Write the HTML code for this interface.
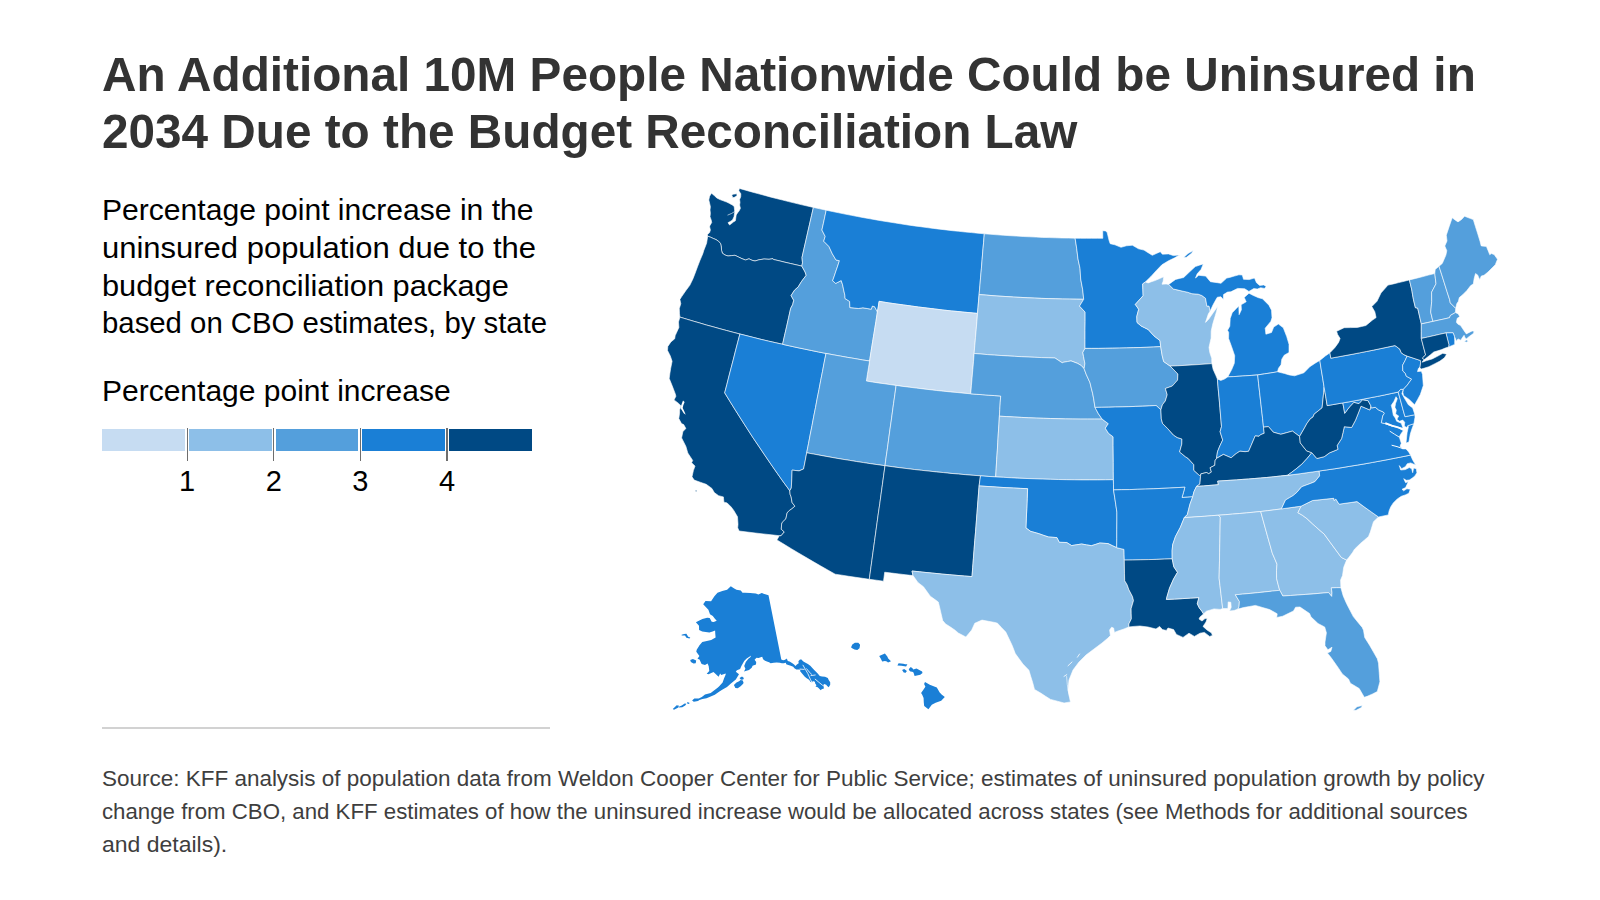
<!DOCTYPE html>
<html lang="en"><head><meta charset="utf-8"><title>An Additional 10M People Nationwide Could be Uninsured in 2034 Due to the Budget Reconciliation Law</title>
<style>
html,body{margin:0;padding:0;background:#fff}
body{width:1600px;height:900px;position:relative;overflow:hidden;font-family:"Liberation Sans",Arial,sans-serif}
.t{position:absolute;white-space:nowrap;line-height:1;transform-origin:0 50%}
.title{font-weight:700;color:#333333}
.sub{color:#000000}
.foot{color:#3e3e3e}
.lab{color:#000;transform-origin:50% 50%}
.seg{position:absolute}
.tick{position:absolute;width:1.2px;background:#6e6e6e}
.tickw{position:absolute;width:1px;background:#fff}
.rule{position:absolute;left:102px;top:726.5px;width:448px;height:2px;background:#d2d2d2}
svg{position:absolute;left:0;top:0}
</style></head><body>
<div class="t title" style="left:102px;top:49.94px;font-size:48.5px;letter-spacing:0px;transform:scaleX(0.9836)">An Additional 10M People Nationwide Could be Uninsured in</div>
<div class="t title" style="left:102px;top:106.84px;font-size:48.5px;letter-spacing:0px;transform:scaleX(0.9835)">2034 Due to the Budget Reconciliation Law</div>
<div class="t sub" style="left:102px;top:196.05px;font-size:29px;letter-spacing:0px;transform:scaleX(1.0375)">Percentage point increase in the</div>
<div class="t sub" style="left:102px;top:233.85px;font-size:29px;letter-spacing:0px;transform:scaleX(1.0683)">uninsured population due to the</div>
<div class="t sub" style="left:102px;top:271.65px;font-size:29px;letter-spacing:0px;transform:scaleX(1.0601)">budget reconciliation package</div>
<div class="t sub" style="left:102px;top:309.45px;font-size:29px;letter-spacing:0px;transform:scaleX(1.0115)">based on CBO estimates, by state</div>
<div class="t sub" style="left:102px;top:376.95px;font-size:29px;letter-spacing:0px;transform:scaleX(1.0345)">Percentage point increase</div>
<div class="t foot" style="left:102px;top:767.78px;font-size:22px;letter-spacing:0px;transform:scaleX(1.0215)">Source: KFF analysis of population data from Weldon Cooper Center for Public Service; estimates of uninsured population growth by policy</div>
<div class="t foot" style="left:102px;top:800.68px;font-size:22px;letter-spacing:0px;transform:scaleX(1.0107)">change from CBO, and KFF estimates of how the uninsured increase would be allocated across states (see Methods for additional sources</div>
<div class="t foot" style="left:102px;top:833.68px;font-size:22px;letter-spacing:0px;transform:scaleX(1.0448)">and details).</div>
<div class="seg" style="left:102.0px;top:429px;width:83.2px;height:21.6px;background:#c6dcf2"></div>
<div class="seg" style="left:189.2px;top:429px;width:82.6px;height:21.6px;background:#8dbfe8"></div>
<div class="seg" style="left:275.8px;top:429px;width:82.6px;height:21.6px;background:#549fdc"></div>
<div class="seg" style="left:362.4px;top:429px;width:82.6px;height:21.6px;background:#1a7fd6"></div>
<div class="seg" style="left:449.0px;top:429px;width:83.0px;height:21.6px;background:#004984"></div>
<div class="tick" style="left:186.6px;top:428.4px;height:32.4px"></div>
<div class="t lab" style="left:167.2px;top:467.45px;width:40px;text-align:center;font-size:29px">1</div>
<div class="tick" style="left:273.2px;top:428.4px;height:32.4px"></div>
<div class="t lab" style="left:253.8px;top:467.45px;width:40px;text-align:center;font-size:29px">2</div>
<div class="tick" style="left:359.8px;top:428.4px;height:32.4px"></div>
<div class="t lab" style="left:340.4px;top:467.45px;width:40px;text-align:center;font-size:29px">3</div>
<div class="tick" style="left:446.4px;top:428.4px;height:32.4px"></div>
<div class="t lab" style="left:427.0px;top:467.45px;width:40px;text-align:center;font-size:29px">4</div>
<div class="rule"></div>
<svg width="1600" height="900" viewBox="0 0 1600 900">
<g id="states" stroke="#ffffff" stroke-opacity="0.6" stroke-width="1.0" stroke-linejoin="round">
<path id="WA" fill="#004984" d="M739.4,188.4L745.6,190.2L751.7,191.9L757.8,193.6L764.0,195.2L770.1,196.9L776.3,198.5L782.5,200.0L788.6,201.6L794.8,203.1L801.0,204.6L807.2,206.0L813.4,207.4L811.5,215.7L809.6,224.1L807.7,232.4L805.8,240.8L803.9,249.1L802.0,257.5L802.5,262.8L801.8,266.1L796.1,264.8L790.5,263.5L784.8,262.2L779.2,260.8L773.5,259.5L773.0,258.7L769.0,259.3L764.0,259.0L759.0,259.8L755.0,261.0L752.0,260.3L749.0,258.8L745.5,260.0L742.0,258.7L738.5,257.0L735.0,255.3L731.5,255.6L728.0,256.0L725.0,255.0L722.4,253.2L721.6,250.6L721.3,247.0L720.6,243.6L718.5,241.2L716.0,239.6L713.3,238.5L710.8,237.3L707.7,236.2L707.5,234.6L709.6,232.5L710.4,230.0L709.6,226.7L710.0,225.4L711.7,222.5L711.2,220.0L710.0,216.7L710.4,213.3L710.0,210.0L710.4,206.7L709.6,203.3L708.8,200.0L709.6,196.2L711.5,193.2L714.2,195.4L716.7,197.9L720.0,199.6L723.3,200.8L726.7,202.1L729.2,203.3L730.8,204.2L732.5,205.0L734.2,206.7L734.8,211.7L734.0,216.7L732.5,220.0L730.2,221.5L728.0,222.7L729.6,225.0L731.2,223.8L733.3,222.1L735.4,220.8L735.8,217.9L736.2,215.0L737.5,212.9L739.2,210.8L740.4,208.3L739.6,205.0L740.0,202.5L739.6,199.6L740.7,196.7L740.8,193.8L738.8,190.8L739.4,188.4Z M731.7,195.0L733.3,194.2L736.7,193.8L737.1,195.4L735.0,197.1L732.9,197.7Z"/>
<path id="OR" fill="#004984" d="M707.7,236.2L710.8,237.3L713.3,238.5L716.0,239.6L718.5,241.2L720.6,243.6L721.3,247.0L721.6,250.6L722.4,253.2L725.0,255.0L728.0,256.0L731.5,255.6L735.0,255.3L738.5,257.0L742.0,258.7L745.5,260.0L749.0,258.8L752.0,260.3L755.0,261.0L759.0,259.8L764.0,259.0L769.0,259.3L773.0,258.7L773.5,259.5L779.2,260.8L784.8,262.2L790.5,263.5L796.1,264.8L801.8,266.1L805.1,272.0L806.2,275.3L801.5,281.5L798.2,286.9L794.5,290.2L791.1,295.6L793.7,300.3L792.7,304.6L790.7,308.3L788.7,317.3L786.7,326.3L784.6,335.3L782.6,344.3L775.5,342.7L768.3,341.1L761.2,339.4L754.1,337.6L747.0,335.8L739.9,334.0L733.2,332.3L726.5,330.5L719.8,328.7L713.1,326.8L706.4,325.0L699.8,323.0L693.1,321.1L686.5,319.1L679.9,317.1L679.5,313.8L679.3,308.5L680.8,303.7L679.9,299.4L681.7,296.6L685.9,290.5L689.8,285.3L692.9,278.9L695.2,273.0L697.4,267.0L700.1,260.1L702.8,253.7L703.7,250.7L706.6,243.2L707.7,236.2Z"/>
<path id="CA" fill="#004984" d="M679.9,317.1L686.5,319.1L693.1,321.1L699.8,323.0L706.4,325.0L713.1,326.8L719.8,328.7L726.5,330.5L733.2,332.3L739.9,334.0L737.7,342.4L735.5,350.8L733.4,359.2L731.2,367.6L729.0,376.0L726.9,384.4L724.7,392.8L730.2,401.8L735.8,410.8L741.5,419.8L747.2,428.7L753.0,437.7L759.0,446.6L765.0,455.5L771.0,464.3L777.2,473.2L783.4,482.0L789.8,490.7L790.1,494.3L791.1,496.8L792.1,502.5L794.9,506.2L791.7,508.9L789.2,510.6L787.1,512.9L785.9,518.8L782.3,522.3L781.6,524.2L781.3,529.3L784.3,531.9L781.0,535.8L779.3,535.7L771.3,534.8L763.2,533.9L755.2,533.0L747.1,532.0L739.1,531.0L737.7,527.8L738.0,524.2L737.5,516.8L733.8,510.5L731.2,507.0L727.1,502.9L723.9,502.2L723.4,496.9L718.6,495.7L714.3,492.6L711.9,488.4L706.2,484.3L700.2,482.2L694.2,480.1L692.0,476.8L693.4,470.5L695.0,466.1L691.6,462.7L692.7,460.4L687.8,453.0L685.9,446.4L681.6,437.9L682.9,431.5L685.9,428.6L683.7,424.6L681.5,423.6L678.8,418.6L679.6,413.1L679.6,410.0L680.9,405.7L678.3,403.2L674.0,399.9L675.9,396.2L675.3,393.9L672.1,385.6L669.2,378.4L669.9,373.3L670.7,368.3L672.1,361.3L670.3,355.9L667.5,350.4L667.8,346.4L670.9,341.9L674.7,338.8L675.2,335.6L678.9,327.4L678.5,322.0L679.9,317.1Z M695.2,490.2L697.0,490.3L696.6,491.8L695.6,491.6Z"/>
<path id="NV" fill="#1a7fd6" d="M739.9,334.0L747.0,335.8L754.1,337.6L761.2,339.4L768.3,341.1L775.5,342.7L782.6,344.3L789.8,345.9L797.0,347.5L804.3,349.0L811.5,350.5L818.7,352.0L826.0,353.4L824.2,362.4L822.5,371.4L820.7,380.5L819.0,389.5L817.2,398.5L815.5,407.6L813.7,416.6L812.0,425.7L810.2,434.7L808.5,443.7L806.7,452.8L805.2,460.8L803.6,468.9L799.1,470.9L792.1,470.1L791.8,478.8L791.3,488.0L789.8,490.7L783.4,482.0L777.2,473.2L771.0,464.3L765.0,455.5L759.0,446.6L753.0,437.7L747.2,428.7L741.5,419.8L735.8,410.8L730.2,401.8L724.7,392.8L726.9,384.4L729.0,376.0L731.2,367.6L733.4,359.2L735.5,350.8L737.7,342.4L739.9,334.0Z"/>
<path id="ID" fill="#549fdc" d="M813.4,207.4L819.8,208.8L826.2,210.2L824.8,216.8L823.4,223.4L821.9,230.0L825.2,236.4L823.7,241.2L828.9,246.4L832.3,253.8L836.0,260.0L839.4,260.7L837.7,266.0L835.9,271.2L834.3,276.0L832.6,280.8L835.7,283.4L841.2,280.6L842.6,284.8L843.7,290.1L844.9,295.4L845.0,298.5L849.6,301.4L849.9,307.6L854.2,308.0L858.4,308.5L862.9,307.8L867.1,308.5L871.3,309.2L872.3,306.1L874.6,306.7L877.4,311.9L875.9,321.7L874.3,331.5L872.7,341.3L871.1,351.2L869.6,361.0L862.3,359.9L855.0,358.6L847.7,357.4L840.5,356.1L833.2,354.8L826.0,353.4L818.7,352.0L811.5,350.5L804.3,349.0L797.0,347.5L789.8,345.9L782.6,344.3L784.6,335.3L786.7,326.3L788.7,317.3L790.7,308.3L792.7,304.6L793.7,300.3L791.1,295.6L794.5,290.2L798.2,286.9L801.5,281.5L806.2,275.3L805.1,272.0L801.8,266.1L802.5,262.8L802.0,257.5L803.9,249.1L805.8,240.8L807.7,232.4L809.6,224.1L811.5,215.7L813.4,207.4Z"/>
<path id="MT" fill="#1a7fd6" d="M826.2,210.2L832.4,211.5L838.7,212.8L845.0,214.1L851.3,215.3L857.5,216.5L863.8,217.7L870.1,218.8L876.4,219.9L882.7,221.0L889.1,222.0L895.4,223.0L901.7,224.0L908.0,225.0L914.4,225.9L920.7,226.7L927.0,227.6L933.4,228.4L939.7,229.2L946.1,229.9L952.5,230.7L958.8,231.3L965.2,232.0L971.6,232.6L977.9,233.2L984.3,233.8L983.6,242.4L982.8,251.1L982.1,259.7L981.4,268.4L980.6,277.1L979.9,285.8L979.1,294.6L978.3,303.9L977.5,313.4L971.0,312.8L964.4,312.2L957.8,311.5L951.2,310.9L944.6,310.2L938.1,309.4L931.5,308.6L924.9,307.8L918.4,307.0L911.8,306.1L905.3,305.2L898.7,304.3L892.2,303.4L885.6,302.4L879.1,301.3L878.3,306.6L877.4,311.9L874.6,306.7L872.3,306.1L871.3,309.2L867.1,308.5L862.9,307.8L858.4,308.5L854.2,308.0L849.9,307.6L849.6,301.4L845.0,298.5L844.9,295.4L843.7,290.1L842.6,284.8L841.2,280.6L835.7,283.4L832.6,280.8L834.3,276.0L835.9,271.2L837.7,266.0L839.4,260.7L836.0,260.0L832.3,253.8L828.9,246.4L823.7,241.2L825.2,236.4L821.9,230.0L823.4,223.4L824.8,216.8L826.2,210.2Z"/>
<path id="WY" fill="#c6dcf2" d="M877.4,311.9L878.3,306.6L879.1,301.3L885.6,302.4L892.2,303.4L898.7,304.3L905.3,305.2L911.8,306.1L918.4,307.0L924.9,307.8L931.5,308.6L938.1,309.4L944.6,310.2L951.2,310.9L957.8,311.5L964.4,312.2L971.0,312.8L977.5,313.4L976.9,321.4L976.2,329.4L975.5,337.4L974.8,345.4L974.1,353.5L973.5,361.5L972.8,369.6L972.1,377.6L971.4,385.7L970.7,393.8L963.9,393.2L957.1,392.5L950.3,391.9L943.5,391.2L936.7,390.5L930.0,389.7L923.2,388.9L916.4,388.1L909.6,387.2L902.9,386.4L896.1,385.4L890.1,384.6L884.2,383.7L878.2,382.9L872.3,382.0L866.4,381.0L867.4,374.4L868.5,367.7L869.6,361.0L871.1,351.2L872.7,341.3L874.3,331.5L875.9,321.7L877.4,311.9Z"/>
<path id="UT" fill="#549fdc" d="M826.0,353.4L833.2,354.8L840.5,356.1L847.7,357.4L855.0,358.6L862.3,359.9L869.6,361.0L868.5,367.7L867.4,374.4L866.4,381.0L872.3,382.0L878.2,382.9L884.2,383.7L890.1,384.6L896.1,385.4L894.9,394.4L893.6,403.3L892.4,412.2L891.2,421.1L889.9,430.0L888.7,438.9L887.5,447.9L886.2,456.8L885.0,465.7L877.9,464.7L870.7,463.7L863.6,462.6L856.4,461.5L849.3,460.3L842.2,459.2L835.1,458.0L828.0,456.7L820.9,455.4L813.8,454.1L806.7,452.8L808.5,443.7L810.2,434.7L812.0,425.7L813.7,416.6L815.5,407.6L817.2,398.5L819.0,389.5L820.7,380.5L822.5,371.4L824.2,362.4L826.0,353.4Z"/>
<path id="CO" fill="#549fdc" d="M896.1,385.4L902.9,386.4L909.6,387.2L916.4,388.1L923.2,388.9L930.0,389.7L936.7,390.5L943.5,391.2L950.3,391.9L957.1,392.5L963.9,393.2L970.7,393.8L976.7,394.3L982.7,394.7L988.7,395.2L994.7,395.6L1000.7,396.0L1000.2,402.7L999.8,409.5L999.4,416.2L998.9,424.9L998.3,433.5L997.8,442.2L997.3,450.9L996.7,459.5L996.2,468.2L995.7,476.9L988.1,476.4L980.5,475.8L973.1,475.3L965.7,474.7L958.4,474.0L951.0,473.4L943.7,472.6L936.3,471.9L929.0,471.1L921.6,470.3L914.3,469.5L907.0,468.6L899.6,467.7L892.3,466.7L885.0,465.7L886.2,456.8L887.5,447.9L888.7,438.9L889.9,430.0L891.2,421.1L892.4,412.2L893.6,403.3L894.9,394.4L896.1,385.4Z"/>
<path id="AZ" fill="#004984" d="M806.7,452.8L813.8,454.1L820.9,455.4L828.0,456.7L835.1,458.0L842.2,459.2L849.3,460.3L856.4,461.5L863.6,462.6L870.7,463.7L877.9,464.7L885.0,465.7L883.7,475.2L882.4,484.7L881.1,494.1L879.8,503.6L878.4,513.1L877.1,522.6L875.8,532.0L874.5,541.5L873.2,550.9L871.9,560.4L870.6,569.8L869.3,579.3L862.5,578.3L855.6,577.3L848.8,576.3L842.0,575.2L835.2,574.2L827.8,570.0L820.4,565.8L813.1,561.6L805.8,557.3L798.5,553.0L791.3,548.7L784.1,544.3L776.9,539.9L779.3,535.7L781.0,535.8L784.3,531.9L781.3,529.3L781.6,524.2L782.3,522.3L785.9,518.8L787.1,512.9L789.2,510.6L791.7,508.9L794.9,506.2L792.1,502.5L791.1,496.8L790.1,494.3L789.8,490.7L791.3,488.0L791.8,478.8L792.1,470.1L799.1,470.9L803.6,468.9L805.2,460.8L806.7,452.8Z"/>
<path id="NM" fill="#004984" d="M885.0,465.7L892.3,466.7L899.6,467.7L907.0,468.6L914.3,469.5L921.6,470.3L929.0,471.1L936.3,471.9L943.7,472.6L951.0,473.4L958.4,474.0L965.7,474.7L973.1,475.3L980.5,475.8L979.8,480.8L979.1,485.9L978.4,495.0L977.7,504.0L977.0,513.1L976.3,522.2L975.6,531.3L974.8,540.4L974.1,549.4L973.4,558.5L972.7,567.5L972.0,576.6L964.5,576.0L957.0,575.4L949.5,574.7L942.0,574.1L934.5,573.3L927.0,572.6L919.5,571.8L912.0,571.0L913.0,575.6L905.9,574.8L898.8,573.9L891.8,573.1L884.7,572.2L883.5,581.2L876.4,580.2L869.3,579.3L870.6,569.8L871.9,560.4L873.2,550.9L874.5,541.5L875.8,532.0L877.1,522.6L878.4,513.1L879.8,503.6L881.1,494.1L882.4,484.7L883.7,475.2L885.0,465.7Z"/>
<path id="ND" fill="#549fdc" d="M984.3,233.8L990.8,234.3L997.2,234.8L1003.7,235.3L1010.2,235.7L1016.7,236.1L1023.2,236.5L1029.7,236.8L1036.1,237.1L1042.6,237.4L1049.1,237.6L1055.6,237.8L1062.1,238.0L1068.6,238.1L1075.1,238.2L1076.7,248.3L1078.0,259.0L1080.0,268.3L1080.7,279.0L1082.7,289.7L1083.7,299.3L1076.7,299.2L1069.7,299.1L1062.7,299.0L1055.8,298.8L1048.8,298.6L1041.8,298.4L1034.8,298.1L1027.9,297.8L1020.9,297.4L1013.9,297.1L1007.0,296.6L1000.0,296.2L993.0,295.7L986.1,295.1L979.1,294.6L979.9,285.8L980.6,277.1L981.4,268.4L982.1,259.7L982.8,251.1L983.6,242.4L984.3,233.8Z"/>
<path id="SD" fill="#8dbfe8" d="M979.1,294.6L986.1,295.1L993.0,295.7L1000.0,296.2L1007.0,296.6L1013.9,297.1L1020.9,297.4L1027.9,297.8L1034.8,298.1L1041.8,298.4L1048.8,298.6L1055.8,298.8L1062.7,299.0L1069.7,299.1L1076.7,299.2L1083.7,299.3L1079.5,306.1L1085.1,312.1L1085.1,321.2L1085.0,330.2L1085.0,339.3L1085.0,348.4L1082.8,352.4L1083.5,356.4L1084.9,363.5L1084.1,368.7L1081.2,365.5L1077.6,363.4L1071.0,360.9L1067.3,361.6L1063.7,362.2L1062.2,362.8L1058.6,360.4L1055.0,358.0L1048.3,357.8L1041.5,357.6L1034.8,357.3L1028.0,357.0L1021.3,356.7L1014.5,356.3L1007.8,355.9L1001.1,355.5L994.3,355.1L987.6,354.6L980.9,354.0L974.1,353.5L974.8,345.4L975.5,337.4L976.2,329.4L976.9,321.4L977.5,313.4L978.3,303.9L979.1,294.6Z"/>
<path id="NE" fill="#549fdc" d="M974.1,353.5L980.9,354.0L987.6,354.6L994.3,355.1L1001.1,355.5L1007.8,355.9L1014.5,356.3L1021.3,356.7L1028.0,357.0L1034.8,357.3L1041.5,357.6L1048.3,357.8L1055.0,358.0L1058.6,360.4L1062.2,362.8L1063.7,362.2L1067.3,361.6L1071.0,360.9L1077.6,363.4L1081.2,365.5L1084.1,368.7L1086.3,374.6L1090.0,382.7L1091.3,388.2L1092.7,393.6L1093.7,398.9L1095.0,407.4L1098.3,413.6L1102.1,419.1L1094.8,419.1L1087.5,419.1L1080.1,419.1L1072.8,419.0L1065.4,418.9L1058.1,418.7L1050.7,418.5L1043.4,418.3L1036.1,418.1L1028.7,417.8L1021.4,417.4L1014.0,417.0L1006.7,416.6L999.4,416.2L999.8,409.5L1000.2,402.7L1000.7,396.0L994.7,395.6L988.7,395.2L982.7,394.7L976.7,394.3L970.7,393.8L971.4,385.7L972.1,377.6L972.8,369.6L973.5,361.5L974.1,353.5Z"/>
<path id="KS" fill="#8dbfe8" d="M999.4,416.2L1006.7,416.6L1014.0,417.0L1021.4,417.4L1028.7,417.8L1036.1,418.1L1043.4,418.3L1050.7,418.5L1058.1,418.7L1065.4,418.9L1072.8,419.0L1080.1,419.1L1087.5,419.1L1094.8,419.1L1102.1,419.1L1108.3,423.7L1105.3,428.2L1108.4,433.2L1113.1,436.8L1113.1,445.4L1113.2,454.0L1113.3,462.6L1113.3,471.2L1113.4,479.7L1105.5,479.8L1097.7,479.9L1089.8,479.9L1082.0,479.9L1074.1,479.8L1066.3,479.7L1058.4,479.5L1050.6,479.3L1042.7,479.1L1034.9,478.8L1027.0,478.5L1019.2,478.2L1011.4,477.8L1003.5,477.3L995.7,476.9L996.2,468.2L996.7,459.5L997.3,450.9L997.8,442.2L998.3,433.5L998.9,424.9L999.4,416.2Z"/>
<path id="OK" fill="#1a7fd6" d="M980.5,475.8L988.1,476.4L995.7,476.9L1003.5,477.3L1011.4,477.8L1019.2,478.2L1027.0,478.5L1034.9,478.8L1042.7,479.1L1050.6,479.3L1058.4,479.5L1066.3,479.7L1074.1,479.8L1082.0,479.9L1089.8,479.9L1097.7,479.9L1105.5,479.8L1113.4,479.7L1113.5,484.8L1113.5,489.9L1114.7,497.3L1115.8,504.7L1116.9,512.1L1116.9,521.0L1116.8,529.9L1116.8,538.8L1116.7,547.7L1112.4,545.7L1108.0,543.6L1103.9,543.3L1099.8,543.0L1095.6,544.4L1091.5,545.7L1086.5,544.9L1081.6,544.0L1076.6,544.8L1071.6,545.6L1066.7,542.5L1059.2,542.3L1056.9,537.6L1052.8,537.3L1048.6,537.0L1043.7,535.4L1038.9,533.7L1034.8,532.5L1030.7,531.4L1025.9,527.9L1026.3,518.1L1026.8,508.3L1027.2,498.5L1027.6,488.7L1020.7,488.4L1013.7,488.0L1006.8,487.7L999.9,487.3L992.9,486.8L986.0,486.4L979.1,485.9L979.8,480.8L980.5,475.8Z"/>
<path id="TX" fill="#8dbfe8" d="M979.1,485.9L986.0,486.4L992.9,486.8L999.9,487.3L1006.8,487.7L1013.7,488.0L1020.7,488.4L1027.6,488.7L1027.2,498.5L1026.8,508.3L1026.3,518.1L1025.9,527.9L1030.7,531.4L1034.8,532.5L1038.9,533.7L1043.7,535.4L1048.6,537.0L1052.8,537.3L1056.9,537.6L1059.2,542.3L1066.7,542.5L1071.6,545.6L1076.6,544.8L1081.6,544.0L1086.5,544.9L1091.5,545.7L1095.6,544.4L1099.8,543.0L1103.9,543.3L1108.0,543.6L1112.4,545.7L1116.7,547.7L1124.0,549.4L1124.1,554.8L1124.3,560.1L1124.4,567.0L1124.5,573.8L1124.7,580.7L1127.1,584.7L1128.9,589.7L1132.5,596.6L1133.5,600.6L1131.1,608.7L1131.2,613.8L1131.4,618.8L1128.9,623.9L1128.9,626.9L1124.0,629.0L1118.0,631.0L1114.4,632.4L1113.6,628.0L1111.6,627.2L1109.6,630.0L1110.4,635.6L1108.0,638.0L1102.0,643.0L1094.0,649.0L1086.0,655.0L1079.0,662.0L1073.0,670.0L1069.0,680.0L1068.0,690.0L1070.0,700.0L1070.5,701.9L1064.1,703.0L1057.4,701.2L1050.6,699.4L1045.6,696.3L1040.7,693.1L1034.5,689.4L1032.6,682.3L1030.7,676.3L1028.9,670.2L1022.9,664.0L1019.1,658.8L1015.3,653.6L1012.2,645.5L1009.0,638.8L1005.8,632.1L1001.6,627.7L997.5,623.2L995.0,622.5L988.5,621.3L982.0,620.1L974.8,623.2L971.7,630.0L965.9,637.0L958.3,633.0L955.4,630.4L950.5,627.1L945.6,623.9L942.7,620.6L940.8,612.4L939.6,607.2L938.3,602.0L934.3,599.1L930.3,596.2L923.5,586.8L917.9,582.4L913.0,575.6L912.0,571.0L919.5,571.8L927.0,572.6L934.5,573.3L942.0,574.1L949.5,574.7L957.0,575.4L964.5,576.0L972.0,576.6L972.7,567.5L973.4,558.5L974.1,549.4L974.8,540.4L975.6,531.3L976.3,522.2L977.0,513.1L977.7,504.0L978.4,495.0L979.1,485.9Z"/>
<path id="MN" fill="#1a7fd6" d="M1075.1,238.2L1080.6,238.3L1086.2,238.3L1091.7,238.3L1097.3,238.3L1102.8,238.3L1102.7,230.7L1105.4,230.9L1107.1,232.3L1109.1,240.6L1110.2,243.7L1114.9,244.8L1121.0,247.3L1126.4,245.8L1132.4,245.2L1138.5,248.8L1144.0,250.1L1148.1,252.7L1152.3,255.3L1156.3,253.5L1160.3,251.7L1162.4,254.2L1168.5,253.9L1173.3,255.6L1179.5,255.0L1174.2,258.1L1168.5,260.8L1165.2,262.8L1161.9,264.8L1156.2,270.7L1151.0,276.4L1145.3,282.0L1142.7,283.9L1142.9,289.8L1143.1,295.7L1139.2,300.1L1135.3,304.4L1138.7,309.3L1136.8,316.4L1137.0,322.4L1141.0,325.9L1144.6,327.7L1148.2,329.5L1154.0,335.9L1160.0,340.6L1160.7,346.6L1153.8,347.0L1146.9,347.3L1140.1,347.5L1133.2,347.7L1126.3,347.9L1119.4,348.1L1112.5,348.2L1105.6,348.3L1098.7,348.4L1091.9,348.4L1085.0,348.4L1085.0,339.3L1085.0,330.2L1085.1,321.2L1085.1,312.1L1079.5,306.1L1083.7,299.3L1082.7,289.7L1080.7,279.0L1080.0,268.3L1078.0,259.0L1076.7,248.3L1075.1,238.2Z"/>
<path id="IA" fill="#549fdc" d="M1085.0,348.4L1091.9,348.4L1098.7,348.4L1105.6,348.3L1112.5,348.2L1119.4,348.1L1126.3,347.9L1133.2,347.7L1140.1,347.5L1146.9,347.3L1153.8,347.0L1160.7,346.6L1162.2,355.6L1163.7,361.6L1170.2,366.1L1177.9,374.0L1177.6,380.1L1172.2,386.1L1165.4,388.5L1167.2,394.8L1165.3,401.0L1162.4,404.8L1160.9,409.8L1156.1,405.5L1149.3,405.9L1142.5,406.2L1135.7,406.4L1128.9,406.7L1122.1,406.9L1115.4,407.0L1108.6,407.2L1101.8,407.3L1095.0,407.4L1093.7,398.9L1092.7,393.6L1091.3,388.2L1090.0,382.7L1086.3,374.6L1084.1,368.7L1084.9,363.5L1083.5,356.4L1082.8,352.4L1085.0,348.4Z"/>
<path id="MO" fill="#1a7fd6" d="M1095.0,407.4L1101.8,407.3L1108.6,407.2L1115.4,407.0L1122.1,406.9L1128.9,406.7L1135.7,406.4L1142.5,406.2L1149.3,405.9L1156.1,405.5L1160.9,409.8L1161.3,418.9L1162.6,423.5L1167.4,428.3L1173.5,435.1L1177.2,437.5L1181.9,439.0L1181.8,444.1L1179.6,452.0L1185.4,456.7L1188.2,458.5L1193.8,464.7L1193.8,470.3L1200.5,476.4L1199.9,484.1L1196.5,486.4L1194.0,491.6L1192.7,496.8L1187.4,497.2L1182.0,497.5L1183.5,492.3L1184.9,487.2L1177.0,487.6L1169.1,488.1L1161.1,488.4L1153.2,488.8L1145.3,489.1L1137.3,489.3L1129.4,489.6L1121.5,489.7L1113.5,489.9L1113.5,484.8L1113.4,479.7L1113.3,471.2L1113.3,462.6L1113.2,454.0L1113.1,445.4L1113.1,436.8L1108.4,433.2L1105.3,428.2L1108.3,423.7L1102.1,419.1L1098.3,413.6L1095.0,407.4Z"/>
<path id="AR" fill="#1a7fd6" d="M1113.5,489.9L1121.5,489.7L1129.4,489.6L1137.3,489.3L1145.3,489.1L1153.2,488.8L1161.1,488.4L1169.1,488.1L1177.0,487.6L1184.9,487.2L1183.5,492.3L1182.0,497.5L1187.4,497.2L1192.7,496.8L1190.0,504.1L1188.7,509.2L1187.4,514.4L1184.3,517.6L1180.3,527.4L1175.5,536.4L1172.7,544.6L1172.1,550.7L1172.2,558.8L1164.2,559.1L1156.2,559.4L1148.2,559.6L1140.2,559.8L1132.2,560.0L1124.3,560.1L1124.1,554.8L1124.0,549.4L1116.7,547.7L1116.8,538.8L1116.8,529.9L1116.9,521.0L1116.9,512.1L1115.8,504.7L1114.7,497.3L1113.5,489.9Z"/>
<path id="LA" fill="#004984" d="M1124.3,560.1L1132.2,560.0L1140.2,559.8L1148.2,559.6L1156.2,559.4L1164.2,559.1L1172.2,558.8L1173.8,566.8L1177.5,572.3L1173.6,578.9L1169.5,588.2L1166.8,597.4L1166.4,599.4L1174.5,599.1L1182.7,598.6L1190.8,598.1L1198.9,597.6L1197.3,603.8L1199.2,607.7L1202.1,611.5L1203.5,613.9L1200.0,617.0L1199.0,619.0L1202.0,621.0L1205.0,618.6L1207.2,618.4L1206.0,622.0L1203.0,626.4L1207.0,630.0L1211.6,633.0L1212.4,635.6L1209.6,636.4L1204.4,632.4L1200.0,633.2L1194.4,636.4L1189.0,633.2L1183.0,637.4L1176.4,634.4L1173.6,629.6L1168.0,628.0L1166.4,630.4L1162.4,629.6L1159.6,626.4L1156.0,629.0L1148.0,627.0L1140.0,626.0L1134.0,626.4L1128.9,626.9L1128.9,623.9L1131.4,618.8L1131.2,613.8L1131.1,608.7L1133.5,600.6L1132.5,596.6L1128.9,589.7L1127.1,584.7L1124.7,580.7L1124.5,573.8L1124.4,567.0L1124.3,560.1Z"/>
<path id="WI" fill="#8dbfe8" d="M1145.3,282.0L1148.1,282.9L1151.5,281.7L1154.9,280.6L1160.3,278.3L1163.7,276.7L1163.2,281.1L1162.0,284.2L1166.1,284.0L1168.7,284.4L1173.4,289.0L1178.1,290.1L1182.8,291.2L1187.5,292.2L1191.9,293.7L1198.2,294.2L1201.8,295.5L1205.5,298.2L1206.9,306.2L1209.0,306.0L1210.2,310.9L1208.3,314.1L1205.5,322.4L1208.8,319.1L1213.2,312.7L1217.6,306.6L1216.6,311.3L1215.0,316.5L1212.8,323.8L1211.2,331.0L1211.1,338.1L1209.0,347.4L1209.8,352.6L1211.7,358.3L1211.9,363.6L1205.0,364.1L1198.0,364.6L1191.1,365.0L1184.1,365.4L1177.2,365.8L1170.2,366.1L1163.7,361.6L1162.2,355.6L1160.7,346.6L1160.0,340.6L1154.0,335.9L1148.2,329.5L1144.6,327.7L1141.0,325.9L1137.0,322.4L1136.8,316.4L1138.7,309.3L1135.3,304.4L1139.2,300.1L1143.1,295.7L1142.9,289.8L1142.7,283.9L1145.3,282.0Z"/>
<path id="MI" fill="#1a7fd6" d="M1168.7,284.4L1172.1,281.9L1175.6,279.4L1179.6,278.4L1183.7,277.5L1188.9,272.5L1192.1,269.5L1195.3,266.6L1199.3,265.2L1203.3,263.9L1201.0,269.5L1197.2,273.8L1195.5,278.0L1198.7,275.3L1202.2,275.7L1205.7,276.1L1210.4,281.7L1213.9,282.2L1217.4,282.7L1221.0,283.3L1226.7,278.1L1229.7,277.4L1234.3,276.1L1238.9,274.8L1242.3,275.0L1243.5,279.3L1249.2,279.6L1254.5,278.0L1256.5,282.8L1259.7,285.4L1263.8,284.9L1266.2,286.6L1264.3,288.4L1260.7,287.7L1257.3,289.1L1253.8,288.6L1248.9,291.4L1244.7,288.8L1241.1,288.6L1237.6,288.4L1234.3,290.1L1230.9,291.8L1227.5,292.1L1223.5,294.6L1223.3,299.6L1220.9,296.8L1217.4,297.2L1216.7,298.2L1213.2,304.6L1210.2,310.9L1209.0,306.0L1206.9,306.2L1205.5,298.2L1201.8,295.5L1198.2,294.2L1191.9,293.7L1187.5,292.2L1182.8,291.2L1178.1,290.1L1173.4,289.0L1168.7,284.4Z M1227.7,376.9L1231.7,369.6L1234.3,363.3L1234.7,355.7L1231.6,346.7L1228.6,338.5L1228.7,332.4L1227.5,330.3L1229.8,326.2L1230.2,318.5L1232.2,312.8L1237.5,307.2L1238.8,306.1L1239.1,314.7L1241.4,309.8L1241.1,304.8L1246.2,301.8L1244.2,297.4L1249.0,293.2L1252.9,295.3L1258.4,297.7L1262.5,298.8L1268.9,305.2L1271.5,310.2L1272.0,317.8L1270.8,321.4L1265.2,328.2L1265.9,334.2L1271.5,332.5L1273.7,327.1L1278.4,324.0L1283.3,327.8L1286.7,336.5L1289.0,344.3L1289.0,352.5L1284.2,355.2L1281.8,359.2L1281.0,364.8L1278.5,368.2L1277.5,371.8L1270.9,372.9L1264.3,373.9L1257.7,374.9L1251.7,375.4L1245.7,375.8L1239.7,376.2L1233.7,376.6L1227.7,376.9Z M1183.7,257.5L1188.1,253.5L1193.3,250.5L1191.5,253.3L1186.4,257.3Z"/>
<path id="IL" fill="#004984" d="M1170.2,366.1L1177.2,365.8L1184.1,365.4L1191.1,365.0L1198.0,364.6L1205.0,364.1L1211.9,363.6L1213.1,369.3L1215.9,375.6L1217.4,379.1L1218.2,388.6L1219.1,398.0L1219.9,407.5L1220.7,417.0L1221.5,426.5L1220.1,431.7L1222.7,440.0L1219.8,446.0L1217.5,451.7L1216.5,458.4L1215.1,460.6L1214.8,465.3L1210.1,467.7L1211.4,472.1L1208.7,473.7L1206.5,472.5L1200.8,473.9L1200.5,476.4L1193.8,470.3L1193.8,464.7L1188.2,458.5L1185.4,456.7L1179.6,452.0L1181.8,444.1L1181.9,439.0L1177.2,437.5L1173.5,435.1L1167.4,428.3L1162.6,423.5L1161.3,418.9L1160.9,409.8L1162.4,404.8L1165.3,401.0L1167.2,394.8L1165.4,388.5L1172.2,386.1L1177.6,380.1L1177.9,374.0L1170.2,366.1Z"/>
<path id="IN" fill="#1a7fd6" d="M1217.4,379.1L1220.8,380.4L1224.4,379.1L1227.7,376.9L1233.7,376.6L1239.7,376.2L1245.7,375.8L1251.7,375.4L1257.7,374.9L1258.6,383.6L1259.6,392.3L1260.6,401.1L1261.6,409.8L1262.6,418.5L1263.5,427.2L1264.2,433.3L1260.5,434.7L1259.0,436.3L1255.2,435.9L1251.1,445.6L1248.6,451.3L1245.1,451.7L1239.9,451.2L1236.2,453.6L1231.1,457.8L1223.4,454.4L1216.5,458.4L1217.5,451.7L1219.8,446.0L1222.7,440.0L1220.1,431.7L1221.5,426.5L1220.7,417.0L1219.9,407.5L1219.1,398.0L1218.2,388.6L1217.4,379.1Z"/>
<path id="OH" fill="#1a7fd6" d="M1257.7,374.9L1264.3,373.9L1270.9,372.9L1277.5,371.8L1284.5,373.5L1289.2,374.9L1294.6,375.8L1299.3,374.3L1303.9,372.8L1309.8,366.7L1315.9,362.7L1319.8,360.4L1321.2,369.3L1322.7,378.3L1324.1,387.2L1323.7,392.2L1323.0,399.1L1322.1,407.8L1318.1,411.0L1314.1,414.2L1313.0,417.0L1310.2,418.9L1306.9,423.5L1304.5,427.9L1299.6,436.4L1292.4,431.1L1286.6,432.7L1280.8,434.3L1273.3,432.2L1268.4,426.6L1263.5,427.2L1262.6,418.5L1261.6,409.8L1260.6,401.1L1259.6,392.3L1258.6,383.6L1257.7,374.9Z"/>
<path id="KY" fill="#004984" d="M1196.5,486.4L1199.9,484.1L1200.5,476.4L1200.8,473.9L1206.5,472.5L1208.7,473.7L1211.4,472.1L1210.1,467.7L1214.8,465.3L1215.1,460.6L1216.5,458.4L1223.4,454.4L1231.1,457.8L1236.2,453.6L1239.9,451.2L1245.1,451.7L1248.6,451.3L1251.1,445.6L1255.2,435.9L1259.0,436.3L1260.5,434.7L1264.2,433.3L1263.5,427.2L1268.4,426.6L1273.3,432.2L1280.8,434.3L1286.6,432.7L1292.4,431.1L1299.6,436.4L1300.3,442.9L1306.5,450.8L1311.8,452.7L1307.3,458.2L1301.8,464.2L1296.0,469.0L1291.8,472.2L1287.5,475.3L1280.6,476.0L1273.6,476.8L1266.6,477.5L1260.6,478.0L1254.7,478.5L1248.7,479.0L1242.7,479.4L1236.5,479.9L1230.2,480.3L1224.0,480.7L1217.7,481.1L1218.4,484.7L1211.1,485.3L1203.8,485.9L1196.5,486.4Z"/>
<path id="TN" fill="#8dbfe8" d="M1196.5,486.4L1203.8,485.9L1211.1,485.3L1218.4,484.7L1217.7,481.1L1224.0,480.7L1230.2,480.3L1236.5,479.9L1242.7,479.4L1248.7,479.0L1254.7,478.5L1260.6,478.0L1266.6,477.5L1273.6,476.8L1280.6,476.0L1287.5,475.3L1293.9,474.5L1300.2,473.7L1306.5,472.8L1312.8,471.9L1319.2,471.0L1319.6,475.9L1314.8,481.7L1310.6,483.4L1306.3,485.0L1301.7,486.7L1296.8,492.4L1293.1,495.6L1289.3,497.8L1285.5,500.0L1281.4,508.9L1274.5,509.8L1267.6,510.7L1260.7,511.5L1253.7,512.2L1246.6,512.9L1239.6,513.5L1232.6,514.1L1225.5,514.7L1218.5,515.2L1211.6,515.7L1204.8,516.3L1198.0,516.7L1191.2,517.2L1184.3,517.6L1187.4,514.4L1188.7,509.2L1190.0,504.1L1192.7,496.8L1194.0,491.6L1196.5,486.4Z"/>
<path id="MS" fill="#8dbfe8" d="M1184.3,517.6L1191.2,517.2L1198.0,516.7L1204.8,516.3L1211.6,515.7L1218.5,515.2L1220.3,517.3L1220.1,526.0L1220.0,534.7L1219.8,543.4L1219.6,552.1L1219.5,560.8L1219.3,569.5L1219.1,578.2L1220.0,585.8L1220.9,593.4L1221.8,601.0L1222.7,608.6L1220.1,609.4L1214.0,608.9L1206.4,611.2L1203.5,613.9L1202.1,611.5L1199.2,607.7L1197.3,603.8L1198.9,597.6L1190.8,598.1L1182.7,598.6L1174.5,599.1L1166.4,599.4L1166.8,597.4L1169.5,588.2L1173.6,578.9L1177.5,572.3L1173.8,566.8L1172.2,558.8L1172.1,550.7L1172.7,544.6L1175.5,536.4L1180.3,527.4L1184.3,517.6Z"/>
<path id="AL" fill="#8dbfe8" d="M1218.5,515.2L1225.5,514.7L1232.6,514.1L1239.6,513.5L1246.6,512.9L1253.7,512.2L1260.7,511.5L1263.0,519.9L1265.3,528.2L1267.6,536.5L1270.0,544.9L1272.3,553.2L1274.7,558.7L1277.0,564.2L1276.5,570.4L1276.6,578.5L1278.1,584.4L1279.7,590.3L1272.3,591.1L1264.9,591.9L1257.5,592.7L1250.1,593.4L1242.7,594.1L1235.3,594.8L1239.4,601.5L1239.0,606.6L1238.0,609.1L1234.1,610.5L1229.5,611.1L1231.2,607.3L1230.8,602.3L1228.2,601.9L1227.9,608.6L1222.7,608.6L1221.8,601.0L1220.9,593.4L1220.0,585.8L1219.1,578.2L1219.3,569.5L1219.5,560.8L1219.6,552.1L1219.8,543.4L1220.0,534.7L1220.1,526.0L1220.3,517.3L1218.5,515.2Z"/>
<path id="GA" fill="#8dbfe8" d="M1260.7,511.5L1267.6,510.7L1274.5,509.8L1281.4,508.9L1288.0,508.0L1294.5,507.1L1301.1,506.2L1297.9,512.7L1302.3,515.2L1306.9,518.6L1312.7,524.0L1318.5,529.2L1324.2,534.1L1330.0,542.1L1335.9,550.1L1341.3,557.4L1346.6,560.1L1343.7,567.3L1342.5,575.6L1340.6,580.0L1340.9,587.7L1336.5,587.7L1331.3,587.9L1332.0,592.5L1331.7,596.4L1328.6,592.6L1320.9,593.2L1313.3,593.9L1305.7,594.4L1298.0,595.0L1290.4,595.5L1282.8,596.0L1279.7,590.3L1278.1,584.4L1276.6,578.5L1276.5,570.4L1277.0,564.2L1274.7,558.7L1272.3,553.2L1270.0,544.9L1267.6,536.5L1265.3,528.2L1263.0,519.9L1260.7,511.5Z"/>
<path id="FL" fill="#549fdc" d="M1279.7,590.3L1282.8,596.0L1290.4,595.5L1298.0,595.0L1305.7,594.4L1313.3,593.9L1320.9,593.2L1328.6,592.6L1331.7,596.4L1332.0,592.5L1331.3,587.9L1336.5,587.7L1340.9,587.7L1343.2,595.9L1346.5,603.5L1349.9,610.1L1353.3,616.6L1357.7,622.0L1362.2,627.4L1363.5,630.2L1364.7,637.5L1369.7,645.4L1373.5,652.1L1377.3,658.7L1378.5,663.2L1379.2,672.4L1379.9,681.7L1377.3,691.6L1372.6,693.9L1367.8,696.1L1364.3,697.3L1359.2,688.5L1350.4,683.2L1348.5,679.0L1342.3,673.9L1338.7,668.4L1334.2,662.0L1331.2,657.8L1327.4,652.9L1330.8,651.4L1332.0,647.2L1327.9,649.8L1325.0,645.8L1325.0,642.1L1326.4,632.8L1324.7,627.0L1318.0,623.5L1310.9,616.8L1309.6,613.5L1304.8,610.3L1300.0,607.0L1295.6,607.2L1293.5,610.9L1288.1,613.6L1282.7,616.2L1276.7,617.5L1277.2,613.8L1269.7,609.6L1262.5,607.5L1255.4,605.4L1249.4,606.5L1243.4,607.6L1238.0,609.1L1239.0,606.6L1239.4,601.5L1235.3,594.8L1242.7,594.1L1250.1,593.4L1257.5,592.7L1264.9,591.9L1272.3,591.1L1279.7,590.3Z M1353.4,710.3L1357.0,706.7L1362.3,705.5L1361.4,707.6L1356.1,710.3Z"/>
<path id="SC" fill="#8dbfe8" d="M1301.1,506.2L1306.9,503.3L1312.6,500.5L1319.7,499.8L1326.8,499.0L1333.8,498.3L1334.2,500.5L1335.8,499.0L1339.1,504.2L1345.1,503.3L1351.0,502.5L1357.0,501.6L1364.1,506.8L1371.3,511.9L1378.5,517.0L1373.5,521.7L1370.3,532.1L1368.5,536.5L1364.5,540.0L1360.4,543.5L1354.5,549.2L1352.5,552.6L1349.0,557.2L1346.6,560.1L1341.3,557.4L1335.9,550.1L1330.0,542.1L1324.2,534.1L1318.5,529.2L1312.7,524.0L1306.9,518.6L1302.3,515.2L1297.9,512.7L1301.1,506.2Z"/>
<path id="NC" fill="#1a7fd6" d="M1319.2,471.0L1326.8,469.9L1334.5,468.8L1342.1,467.6L1349.7,466.3L1357.3,465.1L1365.0,463.8L1372.6,462.4L1380.2,461.0L1387.8,459.6L1395.4,458.1L1403.0,456.6L1410.5,455.1L1412.7,460.0L1415.7,465.1L1410.7,462.9L1407.3,463.7L1405.3,466.7L1401.6,468.7L1399.3,465.6L1400.7,470.0L1405.3,469.6L1409.3,467.6L1411.7,468.7L1412.7,472.7L1413.6,468.0L1416.3,468.7L1416.9,472.7L1414.9,476.0L1412.0,478.3L1409.3,480.0L1406.3,480.3L1403.7,478.7L1405.6,482.7L1408.3,481.6L1406.9,484.7L1405.6,487.6L1402.0,489.3L1403.6,490.8L1406.9,488.8L1410.3,489.3L1408.8,493.3L1405.3,494.9L1401.3,496.3L1397.3,498.9L1393.3,502.9L1390.7,506.9L1389.1,510.9L1388.3,514.9L1378.5,517.0L1371.3,511.9L1364.1,506.8L1357.0,501.6L1351.0,502.5L1345.1,503.3L1339.1,504.2L1335.8,499.0L1334.2,500.5L1333.8,498.3L1326.8,499.0L1319.7,499.8L1312.6,500.5L1306.9,503.3L1301.1,506.2L1294.5,507.1L1288.0,508.0L1281.4,508.9L1285.5,500.0L1289.3,497.8L1293.1,495.6L1296.8,492.4L1301.7,486.7L1306.3,485.0L1310.6,483.4L1314.8,481.7L1319.6,475.9L1319.2,471.0Z"/>
<path id="VA" fill="#1a7fd6" d="M1410.5,455.1L1403.0,456.6L1395.4,458.1L1387.8,459.6L1380.2,461.0L1372.6,462.4L1365.0,463.8L1357.3,465.1L1349.7,466.3L1342.1,467.6L1334.5,468.8L1326.8,469.9L1319.2,471.0L1312.8,471.9L1306.5,472.8L1300.2,473.7L1293.9,474.5L1287.5,475.3L1291.8,472.2L1296.0,469.0L1301.8,464.2L1307.3,458.2L1311.8,452.7L1316.9,458.5L1324.2,456.7L1329.6,452.8L1333.8,451.1L1337.9,449.4L1337.2,445.4L1341.6,438.5L1343.0,432.6L1344.3,426.7L1351.6,427.5L1355.5,420.2L1358.3,413.2L1361.0,406.2L1365.5,408.1L1369.9,410.0L1370.9,405.9L1371.3,408.0L1375.3,407.3L1378.7,410.0L1383.3,412.0L1384.4,413.3L1382.7,416.0L1382.0,420.0L1381.3,422.7L1384.9,423.6L1388.7,424.9L1392.7,426.3L1397.3,427.1L1403.3,430.7L1401.3,433.3L1399.3,436.7L1400.0,439.3L1401.3,443.3L1400.0,446.3L1402.7,448.9L1406.0,448.9L1408.7,452.0L1410.5,455.1Z M1407.7,425.7L1413.9,423.7L1412.0,428.7L1410.3,434.0L1408.9,442.0L1406.0,443.1L1407.1,432.7L1408.4,426.7L1407.7,425.7Z"/>
<path id="WV" fill="#004984" d="M1299.6,436.4L1304.5,427.9L1306.9,423.5L1310.2,418.9L1313.0,417.0L1314.1,414.2L1318.1,411.0L1322.1,407.8L1323.0,399.1L1323.7,392.2L1324.1,387.2L1325.7,396.4L1327.2,405.6L1332.4,404.7L1337.6,403.8L1342.8,402.9L1343.8,408.1L1344.7,413.3L1349.5,406.9L1353.9,402.3L1359.0,403.5L1362.5,399.7L1368.1,400.7L1370.9,405.9L1369.9,410.0L1365.5,408.1L1361.0,406.2L1358.3,413.2L1355.5,420.2L1351.6,427.5L1344.3,426.7L1343.0,432.6L1341.6,438.5L1337.2,445.4L1337.9,449.4L1333.8,451.1L1329.6,452.8L1324.2,456.7L1316.9,458.5L1311.8,452.7L1306.5,450.8L1300.3,442.9L1299.6,436.4Z"/>
<path id="MD" fill="#1a7fd6" d="M1398.2,392.1L1391.3,393.5L1384.4,395.0L1377.5,396.4L1370.6,397.7L1363.7,399.1L1356.7,400.4L1349.8,401.7L1342.8,402.9L1343.8,408.1L1344.7,413.3L1349.5,406.9L1353.9,402.3L1359.0,403.5L1362.5,399.7L1368.1,400.7L1370.9,405.9L1371.3,408.0L1375.3,407.3L1378.7,410.0L1383.3,412.0L1384.4,413.3L1382.7,416.0L1382.0,420.0L1381.3,422.7L1384.9,423.6L1388.7,424.9L1392.7,426.3L1397.3,427.1L1403.1,428.4L1401.3,423.3L1396.7,421.3L1395.3,418.0L1393.3,415.3L1392.4,410.0L1391.3,405.3L1394.0,401.3L1396.0,396.7L1397.3,398.7L1395.6,403.3L1394.9,407.3L1396.3,410.0L1395.6,414.0L1398.7,416.0L1396.9,419.3L1399.6,421.3L1402.7,420.0L1404.7,422.3L1404.3,426.0L1406.7,427.6L1407.7,425.7L1413.9,423.7L1415.0,417.2L1414.9,414.7L1409.9,415.7L1405.0,416.7L1402.7,408.5L1400.5,400.3L1398.2,392.1Z"/>
<path id="DE" fill="#1a7fd6" d="M1403.4,389.3L1400.6,389.3L1398.2,392.1L1400.5,400.3L1402.7,408.5L1405.0,416.7L1409.9,415.7L1414.9,414.7L1412.7,407.9L1408.4,404.8L1405.1,399.3L1401.9,393.7L1403.4,389.3Z"/>
<path id="PA" fill="#1a7fd6" d="M1319.8,360.4L1325.3,356.0L1329.9,352.8L1330.8,358.2L1337.9,356.9L1345.1,355.6L1352.2,354.3L1359.3,352.9L1366.4,351.5L1373.6,350.1L1380.7,348.6L1387.8,347.1L1394.9,345.6L1396.1,346.3L1399.9,349.2L1401.0,352.5L1403.7,354.6L1407.1,356.1L1405.1,360.5L1402.6,365.2L1402.8,371.0L1405.3,373.3L1406.3,376.2L1411.6,379.1L1407.1,385.3L1403.4,389.3L1400.6,389.3L1398.2,392.1L1391.3,393.5L1384.4,395.0L1377.5,396.4L1370.6,397.7L1363.7,399.1L1356.7,400.4L1349.8,401.7L1342.8,402.9L1337.6,403.8L1332.4,404.7L1327.2,405.6L1325.7,396.4L1324.1,387.2L1322.7,378.3L1321.2,369.3L1319.8,360.4Z"/>
<path id="NJ" fill="#1a7fd6" d="M1420.1,366.8L1420.6,362.9L1420.4,360.5L1413.8,358.3L1407.1,356.1L1405.1,360.5L1402.6,365.2L1402.8,371.0L1405.3,373.3L1406.3,376.2L1411.6,379.1L1407.1,385.3L1403.4,389.3L1402.9,392.5L1403.5,395.5L1409.1,399.4L1414.6,404.8L1417.5,399.7L1420.3,394.6L1423.3,385.6L1422.9,380.1L1422.5,374.5L1421.4,371.2L1417.5,371.6L1418.4,368.4L1420.1,366.8Z"/>
<path id="NY" fill="#004984" d="M1329.9,352.8L1335.0,347.4L1338.6,342.4L1340.1,338.5L1337.6,334.4L1336.6,331.3L1340.4,329.5L1344.1,327.7L1350.7,327.6L1357.3,327.4L1361.6,326.5L1365.9,325.5L1369.0,322.9L1372.2,320.3L1376.1,317.6L1374.8,311.7L1371.8,306.6L1377.0,301.3L1381.0,292.9L1384.5,289.0L1388.0,285.1L1393.4,283.9L1398.7,282.6L1404.1,281.3L1409.4,279.9L1410.6,284.9L1411.8,289.9L1412.6,294.9L1413.5,299.8L1415.4,307.7L1417.7,308.1L1419.5,316.0L1421.3,323.9L1421.3,331.1L1421.3,338.4L1423.4,346.6L1425.6,354.9L1422.5,357.9L1424.0,359.8L1422.8,361.1L1422.2,362.2L1426.7,360.6L1432.2,358.9L1437.8,356.1L1442.8,353.3L1446.7,354.2L1444.4,357.8L1440.0,361.1L1434.4,363.9L1428.9,366.7L1423.9,368.3L1421.1,369.1L1420.0,367.8L1420.1,366.8L1420.6,362.9L1420.4,360.5L1413.8,358.3L1407.1,356.1L1403.7,354.6L1401.0,352.5L1399.9,349.2L1396.1,346.3L1394.9,345.6L1387.8,347.1L1380.7,348.6L1373.6,350.1L1366.4,351.5L1359.3,352.9L1352.2,354.3L1345.1,355.6L1337.9,356.9L1330.8,358.2L1329.9,352.8Z"/>
<path id="VT" fill="#549fdc" d="M1409.4,279.9L1415.7,278.4L1422.1,276.8L1428.4,275.1L1434.8,273.5L1435.4,278.6L1436.0,283.8L1431.6,292.2L1431.7,301.5L1431.2,306.8L1430.7,312.2L1432.9,321.4L1427.1,322.7L1421.3,323.9L1419.5,316.0L1417.7,308.1L1415.4,307.7L1413.5,299.8L1412.6,294.9L1411.8,289.9L1410.6,284.9L1409.4,279.9Z"/>
<path id="NH" fill="#549fdc" d="M1434.8,273.5L1435.2,269.4L1439.0,266.3L1441.7,274.6L1444.3,282.9L1446.9,291.2L1449.6,299.5L1450.3,302.9L1455.7,308.3L1455.4,312.6L1450.4,315.4L1449.5,317.7L1444.0,319.0L1438.4,320.2L1432.9,321.4L1430.7,312.2L1431.2,306.8L1431.7,301.5L1431.6,292.2L1436.0,283.8L1435.4,278.6L1434.8,273.5Z"/>
<path id="ME" fill="#549fdc" d="M1439.0,266.3L1442.3,263.4L1445.9,255.1L1446.8,250.7L1444.8,246.0L1447.0,240.9L1446.3,235.2L1449.2,226.5L1452.2,217.8L1455.4,220.2L1458.0,221.9L1461.6,219.4L1464.5,216.2L1470.6,218.6L1473.3,219.6L1475.5,226.8L1477.8,234.0L1480.0,241.2L1481.2,245.9L1486.4,246.4L1489.8,254.8L1491.2,253.5L1494.1,254.5L1497.5,259.3L1495.3,264.7L1492.0,268.0L1488.0,272.0L1484.0,275.3L1481.3,276.0L1479.7,279.7L1477.6,274.9L1475.5,273.6L1474.1,278.7L1473.3,284.0L1470.7,285.6L1466.7,290.7L1462.7,294.7L1459.3,297.6L1458.4,301.3L1456.8,303.7L1455.7,308.3L1450.3,302.9L1449.6,299.5L1446.9,291.2L1444.3,282.9L1441.7,274.6L1439.0,266.3Z"/>
<path id="MA" fill="#549fdc" d="M1421.3,323.9L1427.1,322.7L1432.9,321.4L1438.4,320.2L1444.0,319.0L1449.5,317.7L1450.4,315.4L1455.4,312.6L1458.3,313.9L1459.7,316.7L1457.2,318.3L1456.4,322.2L1457.8,324.1L1460.6,325.6L1462.4,328.3L1464.2,330.9L1466.3,333.9L1472.2,330.9L1474.2,331.4L1473.3,333.6L1468.9,336.7L1466.3,338.9L1464.8,337.2L1464.1,335.3L1462.4,337.6L1460.8,340.2L1458.0,338.9L1456.3,341.3L1455.6,338.9L1454.5,336.7L1453.1,332.8L1445.9,332.9L1439.7,334.3L1433.6,335.7L1427.5,337.1L1421.3,338.4L1421.3,331.1L1421.3,323.9Z M1464.4,341.3L1466.7,340.0L1468.3,341.3L1466.1,342.2Z"/>
<path id="RI" fill="#1a7fd6" d="M1445.9,332.9L1453.1,332.8L1454.5,336.7L1454.7,340.5L1454.7,344.4L1448.6,347.0L1448.9,344.6L1447.4,338.8L1445.9,332.9Z"/>
<path id="CT" fill="#004984" d="M1421.3,338.4L1427.5,337.1L1433.6,335.7L1439.7,334.3L1445.9,332.9L1447.4,338.8L1448.9,344.6L1448.6,347.0L1445.2,348.1L1441.7,349.6L1437.8,350.8L1433.8,352.0L1430.2,355.0L1425.6,358.6L1424.0,359.8L1422.5,357.9L1425.6,354.9L1423.4,346.6L1421.3,338.4Z"/>
</g>
<g id="water" fill="none" stroke="#fff" stroke-linecap="round" stroke-linejoin="round">
<path stroke-width="0.6" d="M727.9,215.0L731.5,213.5L734.8,211.5"/>
<path stroke-width="1.8" d="M1386.0,423.3L1392.0,425.6L1397.3,427.1L1403.3,429.3"/>
<path stroke-width="0.9" d="M1390.0,431.3L1394.5,434.2L1398.9,436.9"/>
<path stroke-width="1.0" d="M1392.0,445.3L1397.0,446.6L1402.5,448.5"/>
<path stroke-width="0.8" d="M1079.6,654.0L1077.4,657.2"/>
<path stroke-width="0.8" d="M1072.0,662.0L1068.0,665.8"/>
<path stroke-width="0.8" d="M1066.8,674.6L1064.0,676.4"/>
<path stroke-width="0.6" d="M1066.6,676.5L1067.3,684.6L1068.4,691.0L1069.6,696.5"/>
</g>
<path id="bays" fill="#fff" d="M680.3,408.0L681.7,404.0L683.0,400.4L684.6,402.0L683.3,405.3L682.7,408.0L684.6,412.0L685.7,414.7L683.7,413.3L681.7,410.0Z"/>
<path id="AK" fill="#1a7fd6" d="M768.5,595.3L781.3,659.6L783.1,660.3L785.3,659.7L786.2,658.4L787.4,659.7L787.7,661.0L789.6,661.5L792.0,663.0L794.1,664.6L795.4,666.1L796.9,664.6L798.7,663.3L798.4,661.2L800.0,659.5L801.5,659.4L803.0,661.2L805.1,662.4L807.9,663.9L810.3,665.8L812.8,668.5L815.2,671.0L817.7,673.4L819.8,675.9L822.0,676.5L825.0,676.8L827.8,678.0L828.7,680.1L830.2,682.3L830.2,684.7L828.7,687.2L827.2,686.0L826.2,684.7L824.1,684.1L823.2,685.3L823.8,687.2L823.7,688.7L822.0,689.0L820.7,690.2L819.5,689.0L817.7,687.2L815.5,686.6L816.5,685.3L815.2,683.5L814.9,681.7L812.8,681.1L812.2,682.3L810.6,682.0L809.1,679.8L806.7,678.3L804.8,676.8L803.3,675.0L801.2,672.5L800.0,671.0L800.6,669.8L798.7,669.4L796.3,669.4L794.4,668.2L793.2,666.7L790.8,665.8L788.3,664.9L786.2,664.3L785.9,662.7L783.8,663.3L781.9,663.3L779.8,662.7L776.7,662.4L773.7,662.7L770.6,663.3L769.1,662.3L767.6,661.8L765.0,660.8L763.1,659.2L762.2,656.8L758.5,657.9L756.5,657.8L754.6,659.7L756.2,662.1L756.0,664.5L752.6,665.7L751.7,667.7L749.0,670.0L744.0,671.6L745.4,668.7L744.2,665.9L745.8,662.0L748.4,658.7L750.3,657.2L751.2,655.4L749.0,656.9L746.7,658.4L744.2,661.0L741.4,666.0L740.1,668.9L736.9,670.3L735.8,671.7L739.0,674.2L735.8,679.5L730.9,683.6L727.0,687.0L722.6,689.6L719.4,691.6L714.8,694.8L710.7,696.5L706.5,698.2L702.4,699.1L699.4,700.1L698.0,701.0L693.8,701.7L692.1,700.4L694.3,698.6L698.8,698.6L701.8,696.9L705.0,694.4L710.7,693.0L717.3,687.9L719.0,686.6L722.6,682.6L724.0,678.4L725.6,674.8L725.7,673.6L721.2,675.1L720.2,673.6L718.6,676.7L713.5,672.0L708.5,674.3L706.7,673.7L709.3,670.9L708.7,666.2L707.6,663.6L705.0,665.0L701.6,664.1L699.5,659.5L697.5,658.8L699.4,655.9L696.3,651.8L696.7,649.7L699.5,645.2L702.3,642.1L705.7,641.2L711.2,639.9L715.6,637.5L715.3,634.0L715.1,630.4L712.6,631.5L709.4,632.5L702.2,631.4L699.1,630.1L699.0,625.8L695.9,622.3L702.4,619.0L707.2,617.7L709.7,618.0L711.7,621.7L713.7,622.1L716.7,620.7L714.7,618.4L712.8,616.0L710.0,614.2L708.4,609.7L703.2,604.2L705.5,600.9L711.1,601.3L714.4,596.2L717.5,592.8L722.3,590.9L727.1,589.8L730.8,586.2L734.2,588.4L736.5,589.8L740.8,590.4L742.5,592.8L744.9,592.7L750.2,593.0L755.8,593.4L758.4,594.5L761.7,593.1L768.5,595.3Z M743.6,682.9L742.8,680.4L740.6,680.1L739.1,681.2L736.5,682.6L733.9,685.1L735.4,687.9L737.7,688.3L740.3,686.5L742.2,684.7Z M743.9,677.9L742.0,676.6L739.5,678.0L741.0,679.8L743.2,679.4Z M681.6,634.7L684.1,634.0L686.4,633.8L688.2,636.8L690.3,637.6L689.5,638.5L686.4,637.8L685.0,635.6L681.7,635.5Z M690.2,660.0L692.9,659.1L696.2,660.4L695.7,663.2L693.5,663.5L690.9,661.9Z M686.4,703.7L684.7,703.4L681.7,705.6L678.9,706.8L678.4,707.4L682.3,707.2L685.2,705.6Z M679.1,705.8L676.7,705.3L672.8,709.1L674.0,709.7L677.9,707.7Z M689.4,702.8L687.1,702.0L687.6,703.9L689.3,703.8Z"/>
<path fill="none" stroke="#fff" stroke-width="0.8" stroke-linecap="round" d="M803,665.2L805.4,669.4L807.9,673.7L810.3,679.2L811.6,681.7M806.7,668.8L809.1,671.9L811.6,674.3M815.2,679.2L818.9,682.3L822.6,685.3M800,669.1L804.2,669.4M811,675.6L815.2,675"/>
<path id="HI" fill="#1a7fd6" d="M925.0,682.1L929.8,684.8L936.8,687.4L939.7,692.4L941.6,694.4L944.8,696.9L941.2,700.8L935.6,702.8L931.8,704.8L928.4,709.3L924.2,705.9L923.8,702.5L923.6,697.9L922.2,694.7L921.1,692.9L923.2,690.1L925.4,686.7L924.1,683.9Z M908.9,668.9L910.8,666.9L912.7,668.5L913.3,669.5L916.5,668.5L922.1,671.5L922.5,673.1L920.3,674.7L914.6,675.9L913.5,672.5L912.3,671.7L910.4,671.5L908.9,669.9Z M902.1,669.9L904.2,668.9L906.9,670.9L905.7,672.7L903.7,672.5Z M897.4,665.5L898.6,663.2L903.3,663.8L905.2,664.2L907.4,664.2L906.1,666.5L901.4,665.7Z M879.2,656.1L884.9,653.4L887.3,656.6L888.2,658.6L891.0,661.3L888.0,662.5L886.9,661.5L885.0,661.1L882.2,661.5L880.7,658.5Z M851.1,647.3L852.3,644.4L854.9,642.8L858.3,642.8L860.1,644.8L859.5,648.2L857.3,650.0L854.5,649.4L851.7,647.9Z"/>
</svg>
</body></html>
